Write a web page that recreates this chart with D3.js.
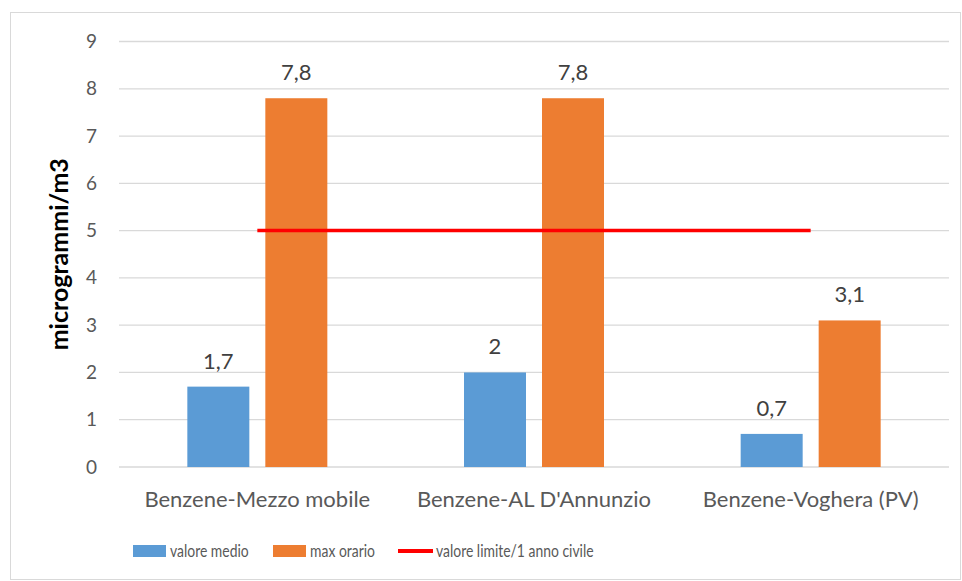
<!DOCTYPE html>
<html><head><meta charset="utf-8">
<script src="https://cdn.jsdelivr.net/npm/d3@7"></script>
<style>body{margin:0;background:#fff}svg{display:block}text{font-family:Lato,"Open Sans",sans-serif}</style>
</head><body><svg id="c" width="962" height="581"></svg>
<script>
const categories = ["Benzene-Mezzo mobile", "Benzene-AL D'Annunzio", "Benzene-Voghera (PV)"];
const valoreMedio = [1.7, 2, 0.7];
const maxOrario = [7.8, 7.8, 3.1];
const valoreLimite = [5, 5, 5];
const seriesNames = ["valore medio", "max orario", "valore limite/1 anno civile"];
const yTicks = [0,1,2,3,4,5,6,7,8,9];

const svg = d3.select("#c");
svg.append("rect").attr("x",10.5).attr("y",12.5).attr("width",950).attr("height",567)
  .attr("fill","#fff").attr("stroke","#d9d9d9").attr("stroke-width",1);

const x = d3.scaleBand().domain(categories).range([119, 949]);
const y = d3.scaleLinear().domain([0, 9]).range([467, 41.5]);
const fmt = v => String(v).replace(".", ",");

// gridlines
svg.append("g").selectAll("line").data(yTicks).join("line")
  .attr("x1",119).attr("x2",949).attr("y1",d=>y(d)).attr("y2",d=>y(d))
  .attr("stroke","#d9d9d9").attr("stroke-width",1.3);

// y axis labels
const yAxis = d3.axisLeft(y).tickValues(yTicks).tickSize(0).tickPadding(0).tickFormat(d=>d);
const ga = svg.append("g").attr("transform","translate(97,0)").call(yAxis);
ga.select(".domain").remove();
ga.selectAll("text").attr("fill","#595959").style("font-size","19px").style("font-family","Lato");

// y title
svg.append("text").attr("transform",`translate(68,${(y(0)+y(9))/2}) rotate(-90)`)
  .attr("text-anchor","middle").attr("fill","#000").style("font-size","25px").style("font-weight","bold")
  .text("microgrammi/m3");

const barW = 62, gap = 16;
const sub = d3.scaleOrdinal().domain([0,1]).range([-(gap/2+barW), gap/2]);
const colors = ["#5B9BD5", "#ED7D31"];
const series = [valoreMedio, maxOrario];

series.forEach((vals, si) => {
  const g = svg.append("g");
  g.selectAll("rect").data(vals).join("rect")
    .attr("x",(d,i)=>x(categories[i]) + x.bandwidth()/2 + sub(si))
    .attr("y",d=>y(d)).attr("width",barW).attr("height",d=>y(0)-y(d))
    .attr("fill",colors[si]);
  g.selectAll("text").data(vals).join("text")
    .attr("x",(d,i)=>x(categories[i]) + x.bandwidth()/2 + sub(si) + barW/2)
    .attr("y",d=>y(d)-18).attr("text-anchor","middle")
    .attr("fill","#404040").style("font-size","22px").text(d=>fmt(d));
});

// limit line
const line = d3.line().x((d,i)=>x(categories[i])+x.bandwidth()/2).y(d=>y(d));
svg.append("path").datum(valoreLimite).attr("d",line).attr("fill","none")
  .attr("stroke","#FF0000").attr("stroke-width",3.5);

// x labels
svg.append("g").selectAll("text").data(categories).join("text")
  .attr("x",d=>x(d)+x.bandwidth()/2).attr("y",507).attr("text-anchor","middle")
  .attr("fill","#595959").style("font-size","22px").text(d=>d);

// legend
const lg = svg.append("g");
const legText = (tx, t) => lg.append("text").attr("transform",`translate(${tx},557) scale(0.82,1)`)
  .attr("fill","#595959").style("font-size","17px").text(t);
lg.append("rect").attr("x",133).attr("y",545).attr("width",33).attr("height",12).attr("fill",colors[0]);
legText(170, seriesNames[0]);
lg.append("rect").attr("x",273).attr("y",545).attr("width",33).attr("height",12).attr("fill",colors[1]);
legText(310, seriesNames[1]);
lg.append("line").attr("x1",398).attr("x2",433).attr("y1",551).attr("y2",551).attr("stroke","#FF0000").attr("stroke-width",4);
legText(436, seriesNames[2]);
</script></body></html>
